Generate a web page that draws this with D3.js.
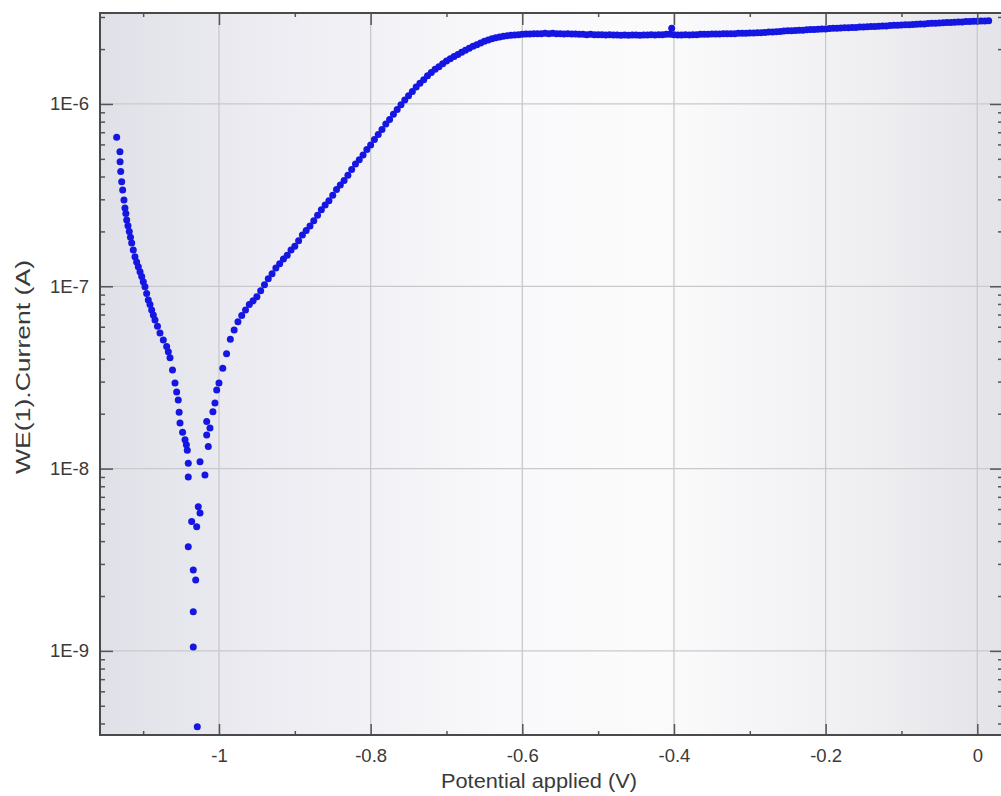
<!DOCTYPE html>
<html><head><meta charset="utf-8">
<script src="https://cdn.jsdelivr.net/npm/d3@7"></script>
<style>html,body{margin:0;padding:0;background:#fff;overflow:hidden}</style>
</head><body>
<svg id="chart" width="1001" height="796"></svg>
<script>
// ---------- DATA ----------
const xTickValues = [-1, -0.8, -0.6, -0.4, -0.2, 0];
const xTickLabels = ["-1", "-0.8", "-0.6", "-0.4", "-0.2", "0"];
const xMinorValues = [-1.1, -0.9, -0.7, -0.5, -0.3, -0.1];
const yTickValues = [1e-9, 1e-8, 1e-7, 1e-6];
const yTickLabels = ["1E-9", "1E-8", "1E-7", "1E-6"];
const xTitle = "Potential applied (V)";
const yTitle = "WE(1).Current (A)";

// cathodic branch (left of the dip)
const cathodicPotential = [-1.1349,-1.1306,-1.1304,-1.1296,-1.1283,-1.1270,-1.1253,-1.1240,-1.1228,-1.1217,
  -1.1200,-1.1183,-1.1167,-1.1151,-1.1130,-1.1108,-1.1086,-1.1064,-1.1041,-1.1019,
  -1.0998,-1.0976,-1.0954,-1.0932,-1.0910,-1.0888,-1.0866,-1.0844,-1.0811,-1.0778,
  -1.0734,-1.0690,-1.0668,-1.0646,-1.0613,-1.0580,-1.0558,-1.0537,-1.0525,-1.0514,
  -1.0480,-1.0448,-1.0430,-1.0418,-1.0405,-1.0405];
const cathodicCurrent = [6.56e-7,5.47e-7,4.82e-7,4.26e-7,3.75e-7,3.37e-7,2.97e-7,2.69e-7,2.51e-7,2.31e-7,
  2.15e-7,2.00e-7,1.86e-7,1.73e-7,1.58e-7,1.45e-7,1.36e-7,1.28e-7,1.20e-7,1.13e-7,
  1.06e-7,9.95e-8,9.12e-8,8.41e-8,7.94e-8,7.41e-8,6.95e-8,6.53e-8,6.03e-8,5.55e-8,
  5.07e-8,4.67e-8,4.37e-8,4.05e-8,3.47e-8,2.95e-8,2.63e-8,2.38e-8,2.04e-8,1.78e-8,
  1.58e-8,1.44e-8,1.35e-8,1.26e-8,1.07e-8,8.99e-9];

// scattered points around the corrosion potential
const dipPotential = [-1.0405,-1.0360,-1.0339,-1.0339,-1.0339,-1.0307,-1.0294,-1.0286,-1.0273,-1.0250,
  -1.0250,-1.0185,-1.0162,-1.0162,-1.0141,-1.0119,-1.0080,-1.0053,-1.0030];
const dipCurrent = [3.73e-9,5.12e-9,2.78e-9,1.64e-9,1.05e-9,2.45e-9,4.80e-9,3.84e-10,6.18e-9,5.70e-9,
  1.09e-8,9.23e-9,1.53e-8,1.81e-8,1.32e-8,1.67e-8,2.05e-8,2.29e-8,2.70e-8];

// anodic branch and plateau
const anodicPotential = [
  -1.000,-0.995,-0.990,-0.985,-0.980,-0.975,-0.970,-0.965,-0.960,-0.955,
  -0.950,-0.945,-0.940,-0.935,-0.930,-0.925,-0.920,-0.915,-0.910,-0.905,
  -0.900,-0.895,-0.890,-0.885,-0.880,-0.875,-0.870,-0.865,-0.860,-0.855,
  -0.850,-0.845,-0.840,-0.835,-0.830,-0.825,-0.820,-0.815,-0.810,-0.805,
  -0.800,-0.795,-0.790,-0.785,-0.780,-0.775,-0.770,-0.765,-0.760,-0.755,
  -0.750,-0.745,-0.740,-0.735,-0.730,-0.725,-0.720,-0.715,-0.710,-0.705,
  -0.700,-0.695,-0.690,-0.685,-0.680,-0.675,-0.670,-0.665,-0.660,-0.655,
  -0.650,-0.645,-0.640,-0.635,-0.630,-0.625,-0.620,-0.615,-0.610,-0.605,
  -0.600,-0.595,-0.590,-0.585,-0.580,-0.575,-0.570,-0.565,-0.560,-0.555,
  -0.550,-0.545,-0.540,-0.535,-0.530,-0.525,-0.520,-0.515,-0.510,-0.505,
  -0.500,-0.495,-0.490,-0.485,-0.480,-0.475,-0.470,-0.465,-0.460,-0.455,
  -0.450,-0.445,-0.440,-0.435,-0.430,-0.425,-0.420,-0.415,-0.410,-0.405,
  -0.400,-0.395,-0.390,-0.385,-0.380,-0.375,-0.370,-0.365,-0.360,-0.355,
  -0.350,-0.345,-0.340,-0.335,-0.330,-0.325,-0.320,-0.315,-0.310,-0.305,
  -0.300,-0.295,-0.290,-0.285,-0.280,-0.275,-0.270,-0.265,-0.260,-0.255,
  -0.250,-0.245,-0.240,-0.235,-0.230,-0.225,-0.220,-0.215,-0.210,-0.205,
  -0.200,-0.195,-0.190,-0.185,-0.180,-0.175,-0.170,-0.165,-0.160,-0.155,
  -0.150,-0.145,-0.140,-0.135,-0.130,-0.125,-0.120,-0.115,-0.110,-0.105,
  -0.100,-0.095,-0.090,-0.085,-0.080,-0.075,-0.070,-0.065,-0.060,-0.055,
  -0.050,-0.045,-0.040,-0.035,-0.030,-0.025,-0.020,-0.015,-0.010,-0.005,
  0.000,0.005,0.010,0.015,
  -0.403];
const anodicCurrent = [
  2.95e-8,3.55e-8,4.27e-8,5.13e-8,5.75e-8,6.38e-8,6.92e-8,7.41e-8,7.94e-8,8.32e-8,
  8.77e-8,9.44e-8,1.02e-7,1.10e-7,1.17e-7,1.26e-7,1.33e-7,1.41e-7,1.48e-7,1.58e-7,
  1.66e-7,1.78e-7,1.91e-7,2.02e-7,2.14e-7,2.29e-7,2.45e-7,2.63e-7,2.79e-7,2.95e-7,
  3.16e-7,3.39e-7,3.59e-7,3.80e-7,4.07e-7,4.37e-7,4.68e-7,4.95e-7,5.25e-7,5.62e-7,
  5.96e-7,6.38e-7,6.79e-7,7.24e-7,7.76e-7,8.22e-7,8.77e-7,9.33e-7,9.89e-7,1.05e-6,
  1.11e-6,1.17e-6,1.24e-6,1.30e-6,1.36e-6,1.43e-6,1.49e-6,1.55e-6,1.60e-6,1.66e-6,
  1.72e-6,1.77e-6,1.82e-6,1.87e-6,1.92e-6,1.97e-6,2.02e-6,2.07e-6,2.11e-6,2.16e-6,
  2.21e-6,2.24e-6,2.28e-6,2.31e-6,2.33e-6,2.35e-6,2.37e-6,2.38e-6,2.39e-6,2.40e-6,
  2.41e-6,2.42e-6,2.42e-6,2.43e-6,2.43e-6,2.43e-6,2.44e-6,2.43e-6,2.44e-6,2.43e-6,
  2.43e-6,2.42e-6,2.43e-6,2.42e-6,2.42e-6,2.41e-6,2.41e-6,2.40e-6,2.41e-6,2.40e-6,
  2.40e-6,2.40e-6,2.39e-6,2.40e-6,2.39e-6,2.39e-6,2.38e-6,2.39e-6,2.38e-6,2.39e-6,
  2.39e-6,2.38e-6,2.39e-6,2.39e-6,2.40e-6,2.39e-6,2.40e-6,2.40e-6,2.41e-6,2.41e-6,
  2.40e-6,2.39e-6,2.39e-6,2.40e-6,2.39e-6,2.40e-6,2.40e-6,2.41e-6,2.41e-6,2.41e-6,
  2.42e-6,2.42e-6,2.42e-6,2.43e-6,2.43e-6,2.43e-6,2.43e-6,2.44e-6,2.44e-6,2.44e-6,
  2.45e-6,2.45e-6,2.46e-6,2.46e-6,2.47e-6,2.48e-6,2.48e-6,2.49e-6,2.50e-6,2.51e-6,
  2.52e-6,2.52e-6,2.53e-6,2.54e-6,2.54e-6,2.55e-6,2.56e-6,2.56e-6,2.57e-6,2.58e-6,
  2.58e-6,2.59e-6,2.60e-6,2.60e-6,2.61e-6,2.62e-6,2.62e-6,2.63e-6,2.63e-6,2.64e-6,
  2.64e-6,2.65e-6,2.66e-6,2.66e-6,2.67e-6,2.68e-6,2.68e-6,2.69e-6,2.70e-6,2.70e-6,
  2.71e-6,2.72e-6,2.72e-6,2.73e-6,2.74e-6,2.75e-6,2.75e-6,2.76e-6,2.77e-6,2.77e-6,
  2.78e-6,2.79e-6,2.80e-6,2.80e-6,2.81e-6,2.82e-6,2.82e-6,2.83e-6,2.83e-6,2.84e-6,
  2.84e-6,2.85e-6,2.85e-6,2.86e-6,
  2.60e-6];

// ---------- LAYOUT ----------
const plot = {left: 100, top: 13, right: 1003, bottom: 735};
const FONT = "'Liberation Sans', Arial, sans-serif";
const TEXT = "#3a3a3a";

const x = d3.scaleLinear().domain([-1.1569, 0.0339]).range([plot.left, plot.right]);
const y = d3.scaleLog().domain([3.457e-10, 3.155e-6]).range([plot.bottom, plot.top]);

const svg = d3.select("#chart");
const defs = svg.append("defs");
const grad = defs.append("linearGradient").attr("id", "bg").attr("x1", "0").attr("x2", "1").attr("y1", "0").attr("y2", "0");
[[0, "#e0e0e8"], [0.18, "#ececf2"], [0.45, "#f9f9fb"], [0.62, "#fbfbfc"], [0.85, "#efeff2"], [1, "#e3e3e8"]]
  .forEach(([o, c]) => grad.append("stop").attr("offset", o).attr("stop-color", c));
defs.append("clipPath").attr("id", "clip").append("rect")
  .attr("x", plot.left).attr("y", plot.top).attr("width", plot.right - plot.left).attr("height", plot.bottom - plot.top);

svg.append("rect").attr("x", plot.left).attr("y", plot.top)
  .attr("width", plot.right - plot.left).attr("height", plot.bottom - plot.top).attr("fill", "url(#bg)");

// grid
const grid = svg.append("g").attr("stroke", "#c9c9cc").attr("stroke-width", 1.3);
grid.selectAll(".gx").data(xTickValues).join("line")
  .attr("x1", d => x(d)).attr("x2", d => x(d)).attr("y1", plot.top).attr("y2", plot.bottom);
grid.selectAll(".gy").data(yTickValues).join("line")
  .attr("y1", d => y(d)).attr("y2", d => y(d)).attr("x1", plot.left).attr("x2", plot.right);

// points
svg.append("g").attr("clip-path", "url(#clip)").selectAll("circle")
  .data([[cathodicPotential, cathodicCurrent], [dipPotential, dipCurrent], [anodicPotential, anodicCurrent]]
    .flatMap(([vs, is]) => vs.map((v, k) => ({v, i: is[k]}))))
  .join("circle")
  .attr("cx", d => x(d.v)).attr("cy", d => y(d.i)).attr("r", 3.5).attr("fill", "#1616e2");

// axes
const yMinor = y.ticks().filter(t => !yTickValues.some(v => Math.abs(v - t) / t < 1e-6));
function styleAxis(g) {
  g.select(".domain").remove();
  g.selectAll("line").attr("stroke", "#555").attr("stroke-width", 1.5);
  g.selectAll("text").attr("fill", TEXT).style("font-family", FONT).style("font-size", "18.5px");
}
// bottom
svg.append("g").attr("transform", `translate(0,${plot.bottom})`)
  .call(d3.axisBottom(x).tickValues(xTickValues).tickFormat((d, k) => xTickLabels[k]).tickSizeInner(-11).tickSizeOuter(0).tickPadding(14))
  .call(styleAxis);
svg.append("g").attr("transform", `translate(0,${plot.bottom})`)
  .call(d3.axisBottom(x).tickValues(xMinorValues).tickFormat("").tickSizeInner(-4).tickSizeOuter(0)).call(styleAxis);
// top
svg.append("g").attr("transform", `translate(0,${plot.top})`)
  .call(d3.axisTop(x).tickValues(xTickValues).tickFormat("").tickSizeInner(-12).tickSizeOuter(0)).call(styleAxis);
svg.append("g").attr("transform", `translate(0,${plot.top})`)
  .call(d3.axisTop(x).tickValues(xMinorValues).tickFormat("").tickSizeInner(-4).tickSizeOuter(0)).call(styleAxis);
// left
svg.append("g").attr("transform", `translate(${plot.left},0)`)
  .call(d3.axisLeft(y).tickValues(yTickValues).tickFormat((d, k) => yTickLabels[k]).tickSizeInner(-13).tickSizeOuter(0).tickPadding(11))
  .call(styleAxis);
svg.append("g").attr("transform", `translate(${plot.left},0)`)
  .call(d3.axisLeft(y).tickValues(yMinor).tickFormat("").tickSizeInner(-5).tickSizeOuter(0)).call(styleAxis);
// right
svg.append("g").attr("transform", `translate(${plot.right},0)`)
  .call(d3.axisRight(y).tickValues(yTickValues).tickFormat("").tickSizeInner(-13).tickSizeOuter(0)).call(styleAxis);
svg.append("g").attr("transform", `translate(${plot.right},0)`)
  .call(d3.axisRight(y).tickValues(yMinor).tickFormat("").tickSizeInner(-5).tickSizeOuter(0)).call(styleAxis);

// frame
svg.append("rect").attr("x", plot.left).attr("y", plot.top)
  .attr("width", plot.right - plot.left).attr("height", plot.bottom - plot.top)
  .attr("fill", "none").attr("stroke", "#4a4a4a").attr("stroke-width", 2);

// titles
svg.append("text").attr("x", 539).attr("y", 788).attr("text-anchor", "middle")
  .attr("textLength", 196).attr("lengthAdjust", "spacingAndGlyphs")
  .style("font-family", FONT).style("font-size", "21px").attr("fill", TEXT).text(xTitle);
svg.append("text").attr("transform", "translate(30,367) rotate(-90)").attr("text-anchor", "middle")
  .attr("textLength", 214).attr("lengthAdjust", "spacingAndGlyphs")
  .style("font-family", FONT).style("font-size", "21px").attr("fill", TEXT).text(yTitle);
</script>
</body></html>
